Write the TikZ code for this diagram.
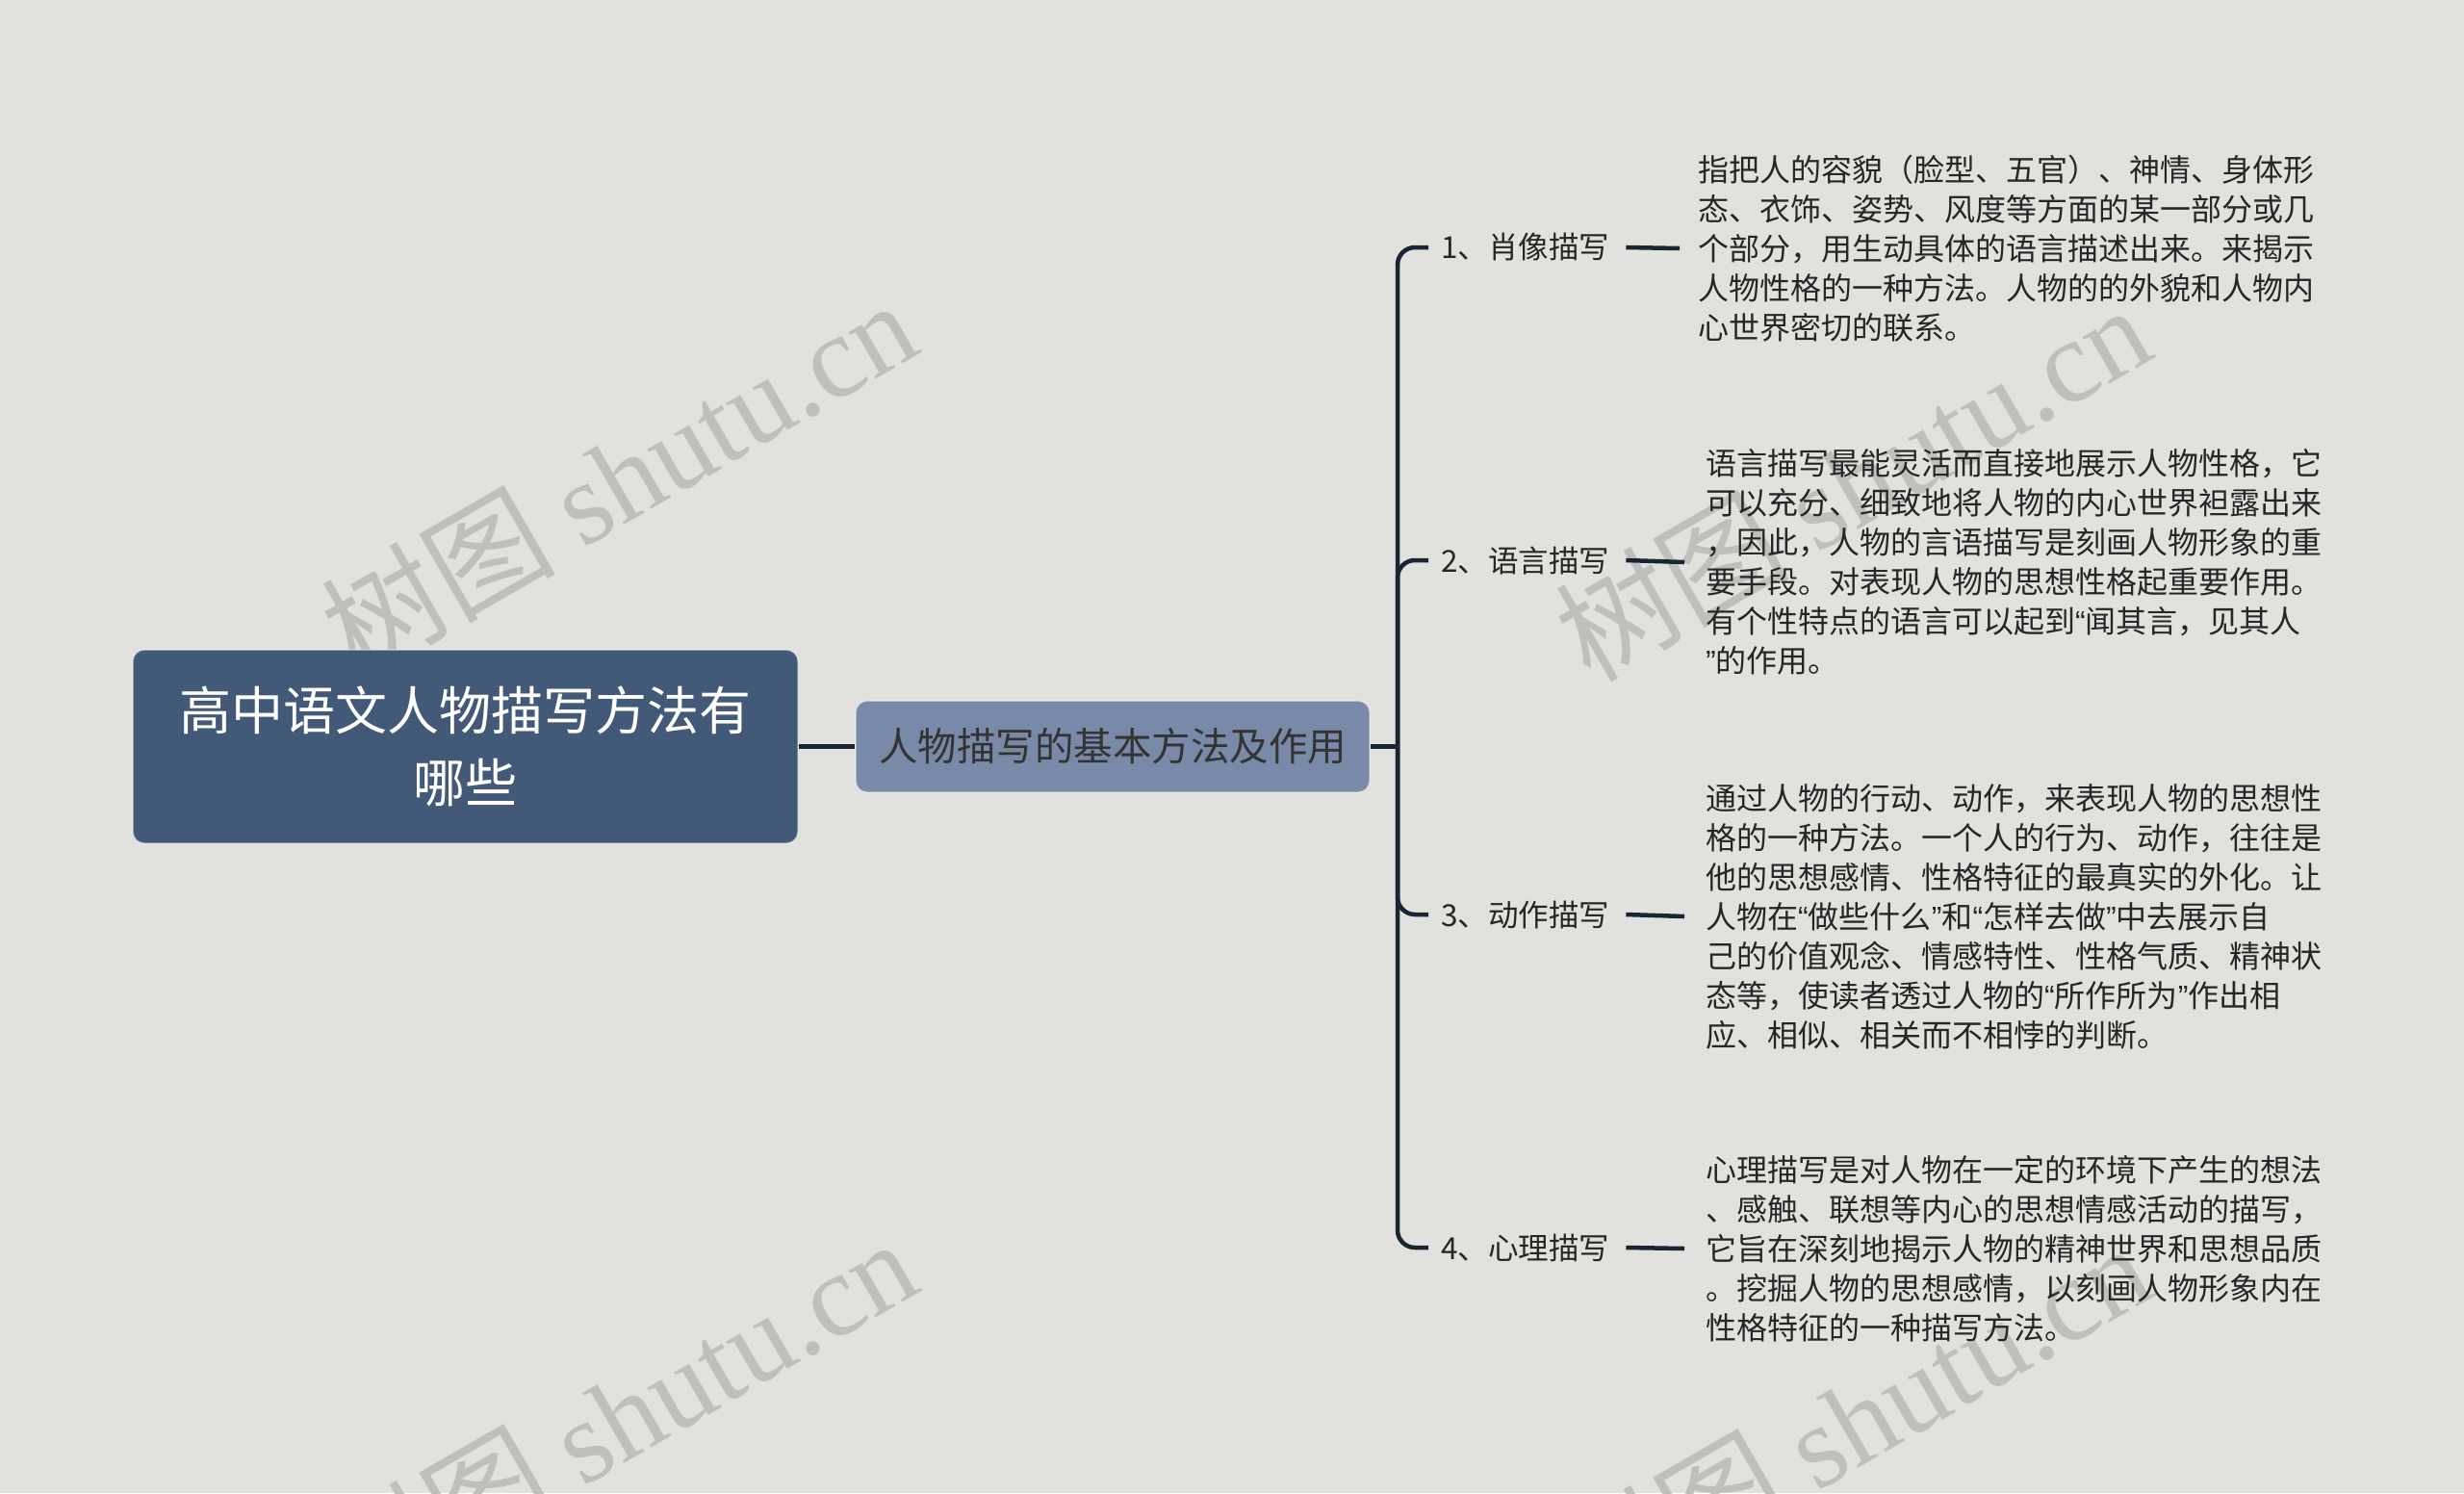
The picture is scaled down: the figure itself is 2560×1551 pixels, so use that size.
\documentclass[tikz,border=0pt]{standalone}
\usepackage{fontspec}
\setmainfont{Noto Sans CJK SC}
\newfontfamily\wmserif{Liberation Serif}
\newfontfamily\qfont{Liberation Sans}
\newcommand\myoq{{\qfont “}}
\newcommand\mycq{{\qfont ”}}
\definecolor{bg}{HTML}{E1E2DD}
\definecolor{rootc}{HTML}{425A78}
\definecolor{mainc}{HTML}{788AA8}
\definecolor{connc}{HTML}{1B2433}
\definecolor{txtc}{HTML}{262626}
\definecolor{maintxt}{HTML}{333333}
\definecolor{wmc}{HTML}{BEC0BB}
\tikzset{
  rootbox/.style={rectangle, rounded corners=12pt, fill=rootc, draw=white, draw opacity=0.45, line width=1.5pt,
    text=white, minimum width=691pt, minimum height=201pt, align=center, inner sep=0pt,
    font=\fontsize{54}{75}\selectfont},
  mainbox/.style={rectangle, rounded corners=12pt, fill=mainc, draw=white, draw opacity=0.45, line width=1.5pt,
    text=maintxt, minimum width=534pt, minimum height=95pt, align=center, inner sep=0pt,
    font=\fontsize{40.5}{48}\selectfont},
  conn/.style={draw=connc, line width=4.5pt},
  lab/.style={anchor=west, inner sep=0pt, text=txtc, font=\fontsize{31.5}{41}\selectfont},
  desc/.style={anchor=west, inner sep=0pt, text=txtc, align=left, font=\fontsize{32}{41}\selectfont},
  wm/.style={anchor=base west, inner sep=0pt, text=wmc, rotate=30, font=\fontsize{122}{130}\selectfont},
}
\begin{document}
\begin{tikzpicture}[x=1pt,y=-1pt]
\fill[bg] (0,0) rectangle (2560,1551);
\useasboundingbox (0,0) rectangle (2560,1551);
\clip (0,0) rectangle (2560,1551);
% watermarks
\node[wm] (wm1) at (370,706) {树图 {\wmserif shutu.cn}};
\node[wm] (wm2) at (1652,711) {树图 {\wmserif shutu.cn}};
\node[wm] (wm3) at (370,1681) {树图 {\wmserif shutu.cn}};
\node[wm] (wm4) at (1652,1686) {树图 {\wmserif shutu.cn}};
% boxes
\node[rootbox] (root) at (483.5,775.5) {高中语文人物描写方法有\\哪些};
\node[mainbox] (main) at (1156,775.5) {人物描写的基本方法及作用};
\coordinate (tk) at (1452,775.5);
\draw[conn] (root.east) -- (main.west);
\draw[conn] (main.east) -- (tk);
% branch labels
\node[lab] (l1) at (1497,257) {1、肖像描写};
\node[lab] (l2) at (1497,582) {2、语言描写};
\node[lab] (l3) at (1497,950) {3、动作描写};
\node[lab] (l4) at (1497,1296) {4、心理描写};
\foreach \n in {l1,l2,l3,l4}{
  \draw[conn, rounded corners=18pt] (tk) |- ([xshift=-13pt]\n.west);
}
% descriptions
\node[desc] (t1) at (1764,258) {指把人的容貌（脸型、五官）、神情、身体形\\
态、衣饰、姿势、风度等方面的某一部分或几\\
个部分，用生动具体的语言描述出来。来揭示\\
人物性格的一种方法。人物的的外貌和人物内\\
心世界密切的联系。};
\node[desc] (t2) at (1772,584) {语言描写最能灵活而直接地展示人物性格，它\\
可以充分、细致地将人物的内心世界袒露出来\\
，因此，人物的言语描写是刻画人物形象的重\\
要手段。对表现人物的思想性格起重要作用。\\
有个性特点的语言可以起到\myoq 闻其言，见其人\\
\mycq 的作用。};
\node[desc] (t3) at (1772,952) {通过人物的行动、动作，来表现人物的思想性\\
格的一种方法。一个人的行为、动作，往往是\\
他的思想感情、性格特征的最真实的外化。让\\
人物在\myoq 做些什么\mycq 和\myoq 怎样去做\mycq 中去展示自\\
己的价值观念、情感特性、性格气质、精神状\\
态等，使读者透过人物的\myoq 所作所为\mycq 作出相\\
应、相似、相关而不相悖的判断。};
\node[desc] (t4) at (1772,1297) {心理描写是对人物在一定的环境下产生的想法\\
、感触、联想等内心的思想情感活动的描写，\\
它旨在深刻地揭示人物的精神世界和思想品质\\
。挖掘人物的思想感情，以刻画人物形象内在\\
性格特征的一种描写方法。};
% dashes
\draw[conn] ([xshift=17pt]l1.east) -- ([xshift=-19pt]t1.west);
\draw[conn] ([xshift=17pt]l2.east) -- ([xshift=-22pt]t2.west);
\draw[conn] ([xshift=17pt]l3.east) -- ([xshift=-22pt]t3.west);
\draw[conn] ([xshift=17pt]l4.east) -- ([xshift=-22pt]t4.west);
\end{tikzpicture}
\end{document}
